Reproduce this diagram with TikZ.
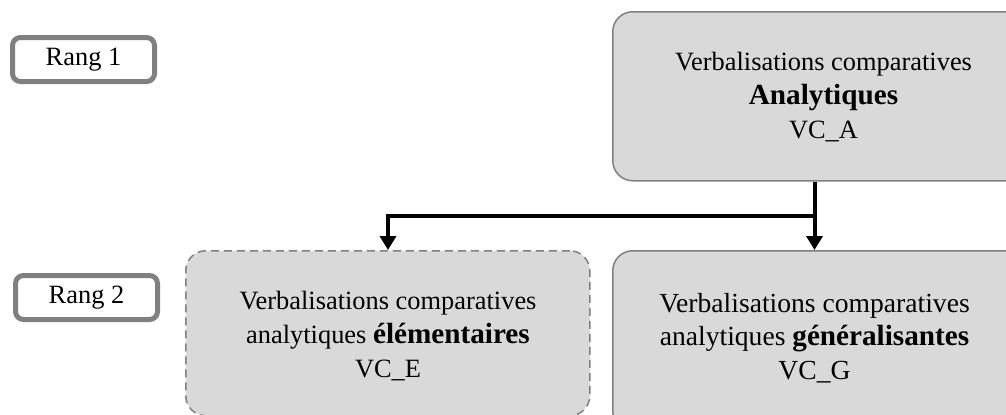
\documentclass[tikz,border=0pt]{standalone}
\usepackage{fontspec}
\setmainfont{Liberation Serif}
\usetikzlibrary{arrows.meta,calc}
\definecolor{boxfill}{HTML}{D9D9D9}
\definecolor{boxline}{HTML}{808080}
\newcommand{\bigbold}[1]{{\fontsize{14.6}{16.5}\selectfont\bfseries #1}}
\tikzset{
  catbox/.style={draw=boxline, fill=boxfill, line width=0.75pt, rounded corners=10pt,
    inner sep=0pt, anchor=north west},
  cattext/.style={inner sep=0pt, align=center, font=\fontsize{13.2}{16.8}\selectfont},
  rangbox/.style={draw=boxline, fill=white, line width=2.5pt, rounded corners=4pt,
    inner sep=0pt, minimum width=71pt, minimum height=22pt, font=\fontsize{13.2}{16}\selectfont},
  conn/.style={line width=2pt, -{Triangle[width=8pt,length=7pt]}},
}
\begin{document}
\begin{tikzpicture}[x=0.5pt,y=-0.5pt]
\useasboundingbox (0,0) rectangle (1006,414);
\clip (0,0) rectangle (1006,414);
\node[rangbox] (r1) at (83.5,59.5) {Rang 1};
\node[rangbox] (r2) at (86.5,297.5) {Rang 2};
\node[catbox, minimum width=220pt, minimum height=84.5pt] (top) at (612,11) {};
\node[catbox, dashed, dash pattern=on 4pt off 2.5pt, minimum width=202pt, minimum height=82.5pt] (bl) at (185,250) {};
\node[catbox, minimum width=215pt, minimum height=90pt] (br) at (612,250) {};
\node[cattext] (topt) at (823.5,97)
  {Verbalisations comparatives\\\bigbold{Analytiques}\\VC\_A};
\node[cattext] (blt) at (388,336)
  {Verbalisations comparatives\\analytiques \bigbold{élémentaires}\\VC\_E};
\node[cattext, font=\fontsize{13.8}{16.8}\selectfont] (brt) at (814.5,338)
  {Verbalisations comparatives\\analytiques \bigbold{généralisantes}\\VC\_G};
\coordinate (s) at (top.south -| brt.north);
\coordinate (j) at ($(s)+(0,34)$);
\draw[conn] (s) -- (s |- br.north);
\draw[conn] (j) -| (blt.north |- bl.north);
\end{tikzpicture}
\end{document}
